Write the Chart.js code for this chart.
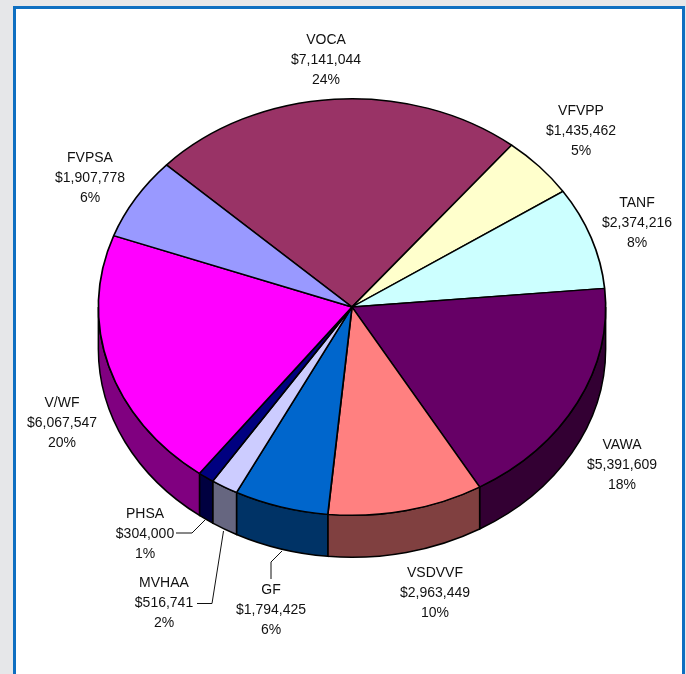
<!DOCTYPE html>
<html>
<head>
<meta charset="utf-8">
<title>Funding sources</title>
<script src="https://cdn.jsdelivr.net/npm/chart.js@4"></script>
<style>
  html, body { margin: 0; padding: 0; background: #fff; overflow: hidden; }
  #page { position: absolute; left: 0; top: 0; width: 686px; height: 674px; background: #e6e7e9; overflow: hidden; }
  #frame { position: absolute; left: 13px; top: 6px; width: 666px; height: 700px; background: #fff; border: 3px solid #0e6fc1; }
  #moneyChart { position: absolute; left: 0; top: 0; }
</style>
</head>
<body>
<div id="page">
  <div id="frame"></div>
  <canvas id="moneyChart" width="686" height="674"></canvas>
</div>
<script>
var categories = ["VOCA", "VFVPP", "TANF", "VAWA", "VSDVVF", "GF", "MVHAA", "PHSA", "V/WF", "FVPSA"];
var amounts = [7141044, 1435462, 2374216, 5391609, 2963449, 1794425, 516741, 304000, 6067547, 1907778];
var percents = ["24%", "5%", "8%", "18%", "10%", "6%", "2%", "1%", "20%", "6%"];

var topColors = ["#993366", "#ffffcc", "#ccffff", "#660066", "#ff8080", "#0066cc", "#ccccff", "#000080", "#ff00ff", "#9999ff"];
var sideColors = ["#4d1a33", "#808066", "#668080", "#330033", "#804040", "#003366", "#666680", "#000040", "#800080", "#4d4d80"];

// centre of each label block, [x, y of first line]
var labelSpots = [[326, 40], [581, 111], [637, 203], [622, 445], [435, 573], [271, 590], [164, 583], [145, 514], [62, 403], [90, 158]];
var leaderLines = [
  [[176, 533], [192, 533], [205, 520]],
  [[197, 603.5], [212, 603.5], [223.5, 531]],
  [[271, 579], [271, 562], [282, 551]]
];

var squash = 209 / 254.5;
var depth = 42;

function moneyText(v) {
  return "$" + v.toLocaleString("en-US");
}

var tiltPlugin = {
  id: "tilt",
  beforeDatasetsDraw: function (chart) {
    var ctx = chart.ctx;
    var arcs = chart.getDatasetMeta(0).data;
    var cx = arcs[0].x, cy = arcs[0].y, r = arcs[0].outerRadius;
    var ry = r * squash;

    // side wall, only the front half of the rim can be seen
    ctx.save();
    ctx.lineWidth = 1.5;
    ctx.strokeStyle = "#000";
    arcs.forEach(function (arc, i) {
      var a = Math.max(arc.startAngle, 0);
      var b = Math.min(arc.endAngle, Math.PI);
      if (b <= a) return;
      ctx.beginPath();
      ctx.ellipse(cx, cy, r, ry, 0, a, b);
      ctx.ellipse(cx, cy + depth, r, ry, 0, b, a, true);
      ctx.closePath();
      ctx.fillStyle = sideColors[i];
      ctx.fill();
      ctx.stroke();
    });
    ctx.restore();

    ctx.save();
    ctx.translate(0, cy);
    ctx.scale(1, squash);
    ctx.translate(0, -cy);
  },
  afterDatasetsDraw: function (chart) {
    var ctx = chart.ctx;
    ctx.restore();

    ctx.save();
    ctx.strokeStyle = "#111";
    ctx.lineWidth = 1;
    leaderLines.forEach(function (pts) {
      ctx.beginPath();
      pts.forEach(function (p, j) {
        if (j == 0) ctx.moveTo(p[0], p[1]);
        else ctx.lineTo(p[0], p[1]);
      });
      ctx.stroke();
    });

    ctx.fillStyle = "#111";
    ctx.font = "14px 'Liberation Sans', Arial, sans-serif";
    ctx.textAlign = "center";
    ctx.textBaseline = "middle";
    categories.forEach(function (name, i) {
      var x = labelSpots[i][0], y = labelSpots[i][1];
      ctx.fillText(name, x, y);
      ctx.fillText(moneyText(amounts[i]), x, y + 20);
      ctx.fillText(percents[i], x, y + 40);
    });
    ctx.restore();
  }
};

var myChart = new Chart(document.getElementById("moneyChart"), {
  type: "pie",
  data: {
    labels: categories,
    datasets: [{
      data: amounts,
      backgroundColor: topColors,
      borderColor: "#000",
      borderWidth: 1.7,
      clip: false
    }]
  },
  options: {
    responsive: false,
    animation: false,
    rotation: -47,
    layout: { padding: { left: 97.5, right: 79.5, top: 52.5, bottom: 112.5 } },
    plugins: {
      legend: { display: false },
      tooltip: { enabled: false }
    }
  },
  plugins: [tiltPlugin]
});
</script>
</body>
</html>
